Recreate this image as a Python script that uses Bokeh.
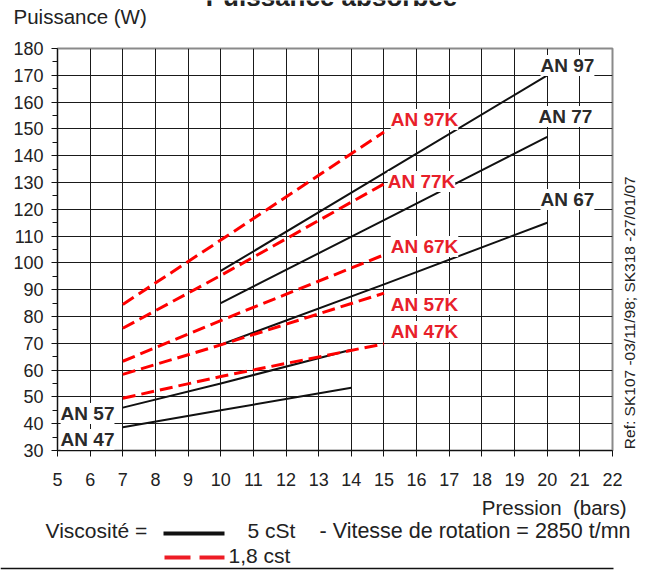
import math
from bokeh.plotting import figure
from bokeh.layouts import column, row
from bokeh.models import Label, FixedTicker, Range1d
from bokeh.core.properties import value
from bokeh.embed import file_html
from bokeh.resources import INLINE

# ---------------- data ----------------
x_ticks = list(range(5, 23))
y_ticks = list(range(30, 181, 10))

# 5 cSt (black, solid)
an97_x, an97_y = [10, 15, 20], [97, 133.5, 170]
an77_x, an77_y = [10, 15, 20], [85, 116, 147]
an67_x, an67_y = [10, 15, 20], [69.5, 92, 115]
an57_x, an57_y = [7, 10, 14], [46, 55, 67.6]
an47_x, an47_y = [7, 10, 14], [38.7, 45, 53.4]

# 1,8 cSt (red, dashed)
an97k_x, an97k_y = [7, 10, 15], [84.5, 108.5, 148.8]
an77k_x, an77k_y = [7, 10, 15], [75.6, 95.3, 129.5]
an67k_x, an67k_y = [7, 10, 15], [63.3, 78.5, 103]
an57k_x, an57k_y = [7, 10, 15], [58.4, 69.4, 88.7]
an47k_x, an47k_y = [7, 10, 15], [49.5, 57.6, 69.8]

black_names = ["AN 97", "AN 77", "AN 67", "AN 57", "AN 47"]
black_lab_x = [20.62, 20.56, 20.62, 5.92, 5.92]
black_lab_y = [173.7, 154.6, 123.7, 43.8, 34.1]

red_names = ["AN 97K", "AN 77K", "AN 67K", "AN 57K", "AN 47K"]
red_lab_x = [16.24, 16.15, 16.24, 16.24, 16.24]
red_lab_y = [153.5, 130.4, 106.1, 84.5, 74.4]

title_text = "Puissance absorbée"
y_title = "Puissance (W)"
x_title = "Pression\u00a0\u00a0(bars)"
legend_lead = "Viscosité ="
legend_black = "5 cSt"
legend_note = "- Vitesse de rotation = 2850 t/mn"
legend_red = "1,8 cst"
ref_text = "Ref: SK107 -03/11/98; SK318 -27/01/07"

BLACK = "#111111"
RED = "#ff0000"
RED_TXT = "#e8202a"
TXT = "#222222"
FONT = "Liberation Sans"


def blank(w, h):
    f = figure(width=w, height=h, x_range=Range1d(0, w), y_range=Range1d(h, 0),
               x_axis_type=None, y_axis_type=None, output_backend="svg",
               toolbar_location=None, min_border=0)
    f.title.visible = False
    f.outline_line_color = None
    f.grid.visible = False
    f.background_fill_color = "white"
    f.border_fill_color = "white"
    return f


def txt(f, x, y, s, size="20px", align="left", style="normal", angle=0.0, color=TXT,
        baseline="alphabetic"):
    f.text(x=[x], y=[y], text=[s], text_font=value(FONT), text_font_size=value(size),
           text_align=align, text_baseline=baseline, text_font_style=style,
           text_color=color, angle=angle)


# ---------------- top band ----------------
top = blank(647, 36)
txt(top, 331, -4, title_text, size="26px", align="center", style="bold")
txt(top, 13, 16, y_title, size="20.5px")

# ---------------- main chart ----------------
p = figure(width=622, height=458, x_range=Range1d(5, 22), y_range=Range1d(30, 180),
           output_backend="svg", toolbar_location=None,
           min_border_left=57, min_border_right=10, min_border_top=12,
           min_border_bottom=44)
p.title.visible = False
p.background_fill_color = "white"
p.border_fill_color = "white"
p.outline_line_color = "#8a8a8a"
p.outline_line_width = 2

xa = p.xaxis[0]
xa.ticker = FixedTicker(ticks=x_ticks)
xa.major_tick_out = 6
xa.major_tick_in = 0
xa.minor_tick_out = 0
xa.major_label_standoff = 16
xa.major_label_text_font = FONT
xa.major_label_text_font_size = "18px"
xa.major_label_text_color = TXT
xa.axis_line_color = BLACK
xa.major_tick_line_color = BLACK

ya = p.yaxis[0]
ya.ticker = FixedTicker(ticks=y_ticks, minor_ticks=[v + 5 for v in y_ticks[:-1]])
ya.major_tick_out = 6
ya.major_tick_in = 0
ya.minor_tick_out = 5
ya.minor_tick_in = 0
ya.major_label_standoff = 8
ya.major_label_text_font = FONT
ya.major_label_text_font_size = "18px"
ya.major_label_text_color = TXT
ya.axis_line_color = BLACK
ya.major_tick_line_color = BLACK
ya.minor_tick_line_color = BLACK

p.xgrid.ticker = FixedTicker(ticks=x_ticks[1:-1])
p.ygrid.ticker = FixedTicker(ticks=y_ticks[1:-1])
p.xgrid.grid_line_color = "#1a1a1a"
p.ygrid.grid_line_color = "#1a1a1a"
p.xgrid.grid_line_width = 1
p.ygrid.grid_line_width = 1

for xs, ys in [(an97_x, an97_y), (an77_x, an77_y), (an67_x, an67_y),
               (an57_x, an57_y), (an47_x, an47_y)]:
    p.line(xs, ys, line_color=BLACK, line_width=2)
for xs, ys in [(an97k_x, an97k_y), (an77k_x, an77k_y), (an67k_x, an67k_y),
               (an57k_x, an57k_y), (an47k_x, an47k_y)]:
    p.line(xs, ys, line_color=RED, line_width=3, line_dash="13 6")

for n, lx, ly in zip(black_names, black_lab_x, black_lab_y):
    p.add_layout(Label(x=lx, y=ly, text=n, text_align="center", text_baseline="middle",
                       text_font=FONT, text_font_style="bold", text_font_size="19px",
                       text_color="#2a2a2a", background_fill_color="white"))
for n, lx, ly in zip(red_names, red_lab_x, red_lab_y):
    p.add_layout(Label(x=lx, y=ly, text=n, text_align="center", text_baseline="middle",
                       text_font=FONT, text_font_style="bold", text_font_size="19px",
                       text_color=RED_TXT, background_fill_color="white"))

# ---------------- right band (vertical reference) ----------------
right = blank(25, 458)
txt(right, 7, 301, ref_text, size="15.5px", angle=math.pi / 2, align="center",
    baseline="middle")

# ---------------- bottom band (axis title, legend) ----------------
bot = blank(647, 76)
txt(bot, 626, 12.5, x_title, size="20.5px", align="right")
txt(bot, 45, 36, legend_lead, size="21px")
bot.line([163, 224], [39, 39], line_color=BLACK, line_width=4)
txt(bot, 247, 36, legend_black, size="21px")
txt(bot, 630, 36, legend_note, size="21.5px", align="right")
bot.line([164, 224], [63, 63], line_color="#ee1c25", line_width=4, line_dash="26 9")
txt(bot, 228, 61, legend_red, size="21px")
bot.line([0, 613], [74, 74], line_color=BLACK, line_width=1.5)

layout = column(top, row(p, right), bot)
open("out.html", "w").write(file_html(layout, INLINE))
